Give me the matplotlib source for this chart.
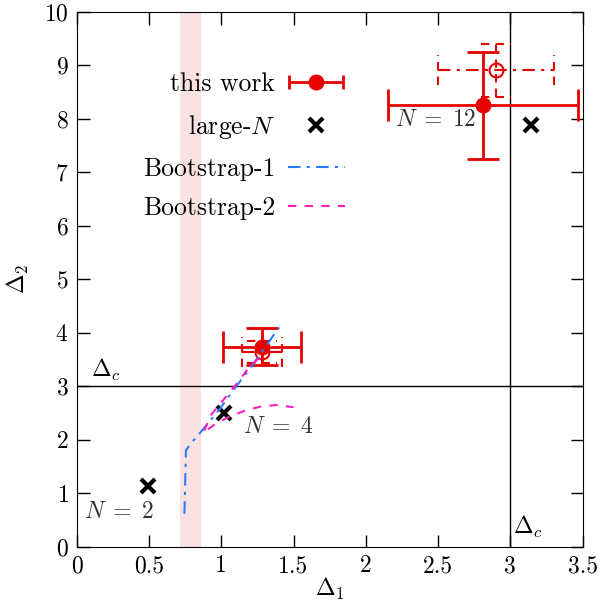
import numpy as np
import matplotlib
matplotlib.use('Agg')
import matplotlib.pyplot as plt
from matplotlib.container import ErrorbarContainer
from matplotlib.legend_handler import HandlerErrorbar

plt.rcParams['font.family'] = 'serif'
plt.rcParams['font.serif'] = ['cmr10']
plt.rcParams['mathtext.fontset'] = 'cm'
plt.rcParams['axes.formatter.use_mathtext'] = True
plt.rcParams['font.size'] = 17

red = '#e60000'
blue = '#2a7bff'
magenta = '#ff1fc0'

# this work, filled points
tw_x = [1.28, 2.81]
tw_y = [3.74, 8.25]
tw_xerr = [0.27, 0.66]
tw_yerr = [0.345, 1.0]

# this work, open points (dashed error bars)
op_x = [1.28, 2.90]
op_y = [3.64, 8.90]
op_xerr = [0.14, 0.40]
op_yerr = [0.20, 0.50]

# large-N
ln_x = [0.49, 1.02, 3.14]
ln_y = [1.14, 2.51, 7.88]
ln_lab = [r'$N\;=\;2$', r'$N\;=\;4$', r'$N\;=\;12$']

# Bootstrap-1
b1_x = [0.745, 0.75, 0.755, 0.785, 0.853, 0.99, 1.095, 1.20, 1.29, 1.40]
b1_y = [0.62, 1.2, 1.80, 1.92, 2.13, 2.58, 2.97, 3.34, 3.68, 4.10]

# Bootstrap-2
b2_x = [1.26, 1.18, 1.11, 0.93, 0.875, 0.95, 1.06, 1.17, 1.27, 1.38, 1.50]
b2_y = [3.53, 3.31, 3.06, 2.47, 2.13, 2.28, 2.44, 2.55, 2.62, 2.65, 2.61]

delta_c = 3.0
band = (0.715, 0.857)

fig = plt.figure(figsize=(6, 6.07), dpi=100)
ax = fig.add_axes([0.128, 0.099, 0.843, 0.882])

ax.axvspan(band[0], band[1], color='#fae2e2', lw=0, zorder=0)
ax.axhline(delta_c, color='k', lw=1, zorder=1)
ax.axvline(delta_c, color='k', lw=1, zorder=1)
ax.text(0.1, 3.07, r'$\Delta_c$', ha='left', va='bottom')
ax.text(3.02, 0.38, r'$\Delta_c$', ha='left', va='center')

# open points with dashed error bars
eb = ax.errorbar(op_x, op_y, xerr=op_xerr, yerr=op_yerr, fmt='o', ms=10, mfc='none',
                 mec=red, mew=1.5, ecolor=red, elinewidth=1.5, capsize=0, zorder=3)
eb[2][0].set_linestyle((0, (6, 3, 1.5, 3)))
eb[2][1].set_linestyle((0, (4, 3)))
cx, cy = 0.105, 0.28
for x, y, xe, ye in zip(op_x, op_y, op_xerr, op_yerr):
    ax.vlines([x - xe, x + xe], y - cy, y + cy, colors=red, lw=1.5, linestyles=(0, (4, 3)), zorder=3)
    ax.hlines([y - ye, y + ye], x - cx, x + cx, colors=red, lw=1.5, linestyles=(0, (4, 3)), zorder=3)

# filled points
ax.errorbar(tw_x, tw_y, xerr=tw_xerr, yerr=tw_yerr, fmt='o', ms=10.5, color=red,
            elinewidth=2, capsize=11.5, capthick=2, zorder=4)

ax.plot(ln_x, ln_y, 'x', color='k', ms=10, mew=3, zorder=5)
ax.text(0.29, 0.65, ln_lab[0], ha='center', va='center', color='#333333')
ax.text(1.395, 2.25, ln_lab[1], ha='center', va='center', color='#333333')
ax.text(2.485, 7.97, ln_lab[2], ha='center', va='center', color='#333333')

ax.plot(b1_x, b1_y, color=blue, lw=1.5, ls=(0, (6, 3, 1.5, 3)), zorder=6)
ax.plot(b2_x, b2_y, color=magenta, lw=1.5, ls=(0, (4, 4)), zorder=6)

# legend proxies
h_tw = ax.errorbar([np.nan], [np.nan], xerr=[0.1], fmt='o', ms=10.5, color=red,
                   elinewidth=2, capsize=5, capthick=2)
h_ln, = ax.plot([np.nan], [np.nan], 'x', color='k', ms=10, mew=3)
h_b1, = ax.plot([np.nan], [np.nan], color=blue, lw=1.5, ls=(0, (6, 3, 1.5, 3)))
h_b2, = ax.plot([np.nan], [np.nan], color=magenta, lw=1.5, ls=(0, (4, 4)))
ax.legend([h_tw, h_ln, h_b1, h_b2], ['this work', 'large-$N$', 'Bootstrap-1', 'Bootstrap-2'],
          loc='upper right', bbox_to_anchor=(0.575, 0.929), frameon=False,
          markerfirst=False, handlelength=2.2, labelspacing=0.63, handletextpad=0.5,
          fontsize=18.5, handler_map={ErrorbarContainer: HandlerErrorbar(xerr_size=1.05)})

ax.set_xlim(0, 3.5)
ax.set_ylim(0, 10)
ax.set_xticks(np.arange(0, 3.51, 0.5))
ax.set_xticklabels(['0', '0.5', '1', '1.5', '2', '2.5', '3', '3.5'])
ax.set_yticks(np.arange(0, 11, 1))
ax.tick_params(direction='in', length=9, width=1, top=True, right=True, pad=6)
ax.set_xlabel(r'$\Delta_1$', labelpad=-1)
ax.set_ylabel(r'$\Delta_2$', labelpad=9)

fig.savefig('out.png', dpi=100)
